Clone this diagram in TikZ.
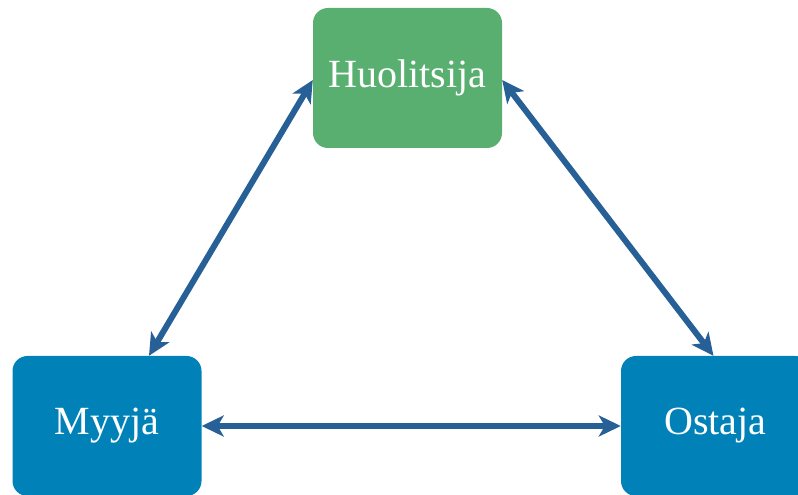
\documentclass[tikz,border=0pt]{standalone}
\usepackage{fontspec}
\setmainfont{Liberation Serif}
\usetikzlibrary{arrows.meta}
\definecolor{boxgreen}{RGB}{88,175,112}
\definecolor{boxblue}{RGB}{0,130,185}
\definecolor{arrowblue}{RGB}{38,96,150}
\begin{document}
\begin{tikzpicture}[x=1pt,y=1pt,
  party/.style={rounded corners=15pt, minimum width=189pt, minimum height=140pt, inner sep=0pt,
    text=white, font=\fontsize{40}{44}\selectfont},
  link/.style={arrowblue, line width=6pt, {Stealth[length=22pt,width=21pt,inset=6pt]}-{Stealth[length=22pt,width=21pt,inset=6pt]}}]
\useasboundingbox (0,0) rectangle (798,495);
\node[party, fill=boxgreen] (H) at (407.5,417) {Huolitsija};
\node[party, fill=boxblue] (M) at (107,69) {Myyjä};
\node[party, fill=boxblue] (O) at (715.5,69) {Ostaja};
\coordinate (Mtop) at ([xshift=42pt]M.north);
\coordinate (Otop) at ([xshift=-2pt]O.north);
\draw[link] ([yshift=-2pt]H.west) -- (Mtop);
\draw[link] ([yshift=-2pt]H.east) -- (Otop);
\draw[link] (M.east) -- (O.west);
\end{tikzpicture}
\end{document}
